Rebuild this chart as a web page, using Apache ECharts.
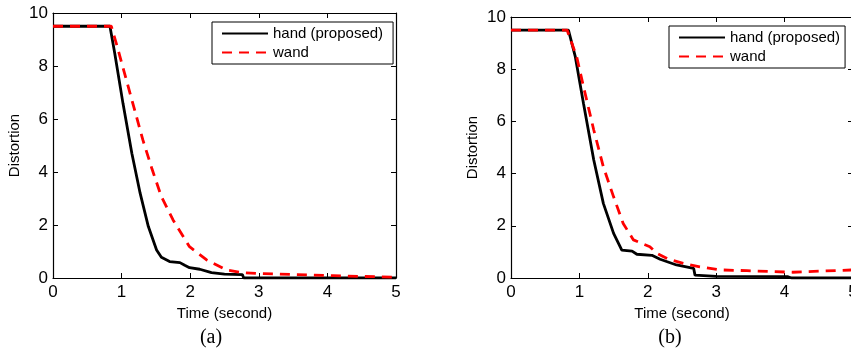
<!DOCTYPE html>
<html>
<head>
<meta charset="utf-8">
<script src="https://cdn.jsdelivr.net/npm/echarts@6/dist/echarts.min.js"></script>
<style>
html,body{margin:0;padding:0;background:#fff;}
#c{width:851px;height:354px;}
</style>
</head>
<body>
<div id="c"></div>
<script>
// ---- data ----
var xTicks = [0, 1, 2, 3, 4, 5];
var yTicks = [0, 2, 4, 6, 8, 10];
var seriesNames = ['hand (proposed)', 'wand'];
var captions = ['(a)', '(b)'];

// (a)
var aHandX = [0, 0.83, 0.90, 1.02, 1.15, 1.27, 1.39, 1.51, 1.58, 1.70, 1.85, 1.92, 1.99, 2.14, 2.31, 2.50, 2.76, 2.78, 5];
var aHandY = [9.5, 9.5, 8.48, 6.59, 4.70, 3.20, 1.94, 1.06, 0.78, 0.62, 0.58, 0.48, 0.39, 0.33, 0.20, 0.15, 0.13, 0, 0];
var aWandX = [0, 0.85, 0.93, 1.07, 1.19, 1.31, 1.44, 1.58, 1.75, 1.99, 2.24, 2.53, 2.77, 2.98, 3.50, 4.08, 4.50, 5];
var aWandY = [9.5, 9.5, 8.79, 7.47, 6.34, 5.21, 4.14, 3.07, 2.19, 1.18, 0.68, 0.30, 0.20, 0.17, 0.13, 0.09, 0.06, 0.03];

// (b)
var bHandX = [0, 0.84, 0.94, 1.06, 1.21, 1.35, 1.50, 1.62, 1.77, 1.84, 2.06, 2.18, 2.42, 2.67, 2.69, 3.00, 4.05, 4.10, 5];
var bHandY = [9.5, 9.5, 8.48, 6.69, 4.52, 2.86, 1.71, 1.07, 1.03, 0.91, 0.87, 0.72, 0.50, 0.37, 0.11, 0.06, 0.05, 0, 0];
var bWandX = [0, 0.82, 0.96, 1.06, 1.21, 1.35, 1.50, 1.64, 1.79, 2.03, 2.13, 2.30, 2.52, 2.76, 3.06, 3.45, 4.12, 4.50, 5];
var bWandY = [9.5, 9.5, 8.48, 7.33, 5.67, 4.26, 3.11, 2.09, 1.46, 1.20, 0.95, 0.72, 0.56, 0.43, 0.31, 0.28, 0.22, 0.26, 0.31];

function pairs(xs, ys) { return xs.map(function (x, i) { return [x, ys[i]]; }); }

var FONT = 'Liberation Sans, Arial, Helvetica, sans-serif';
var chart = echarts.init(document.getElementById('c'), null, {renderer: 'canvas'});

var grids = [
  {left: 53, width: 343, top: 13, bottom: 76, outerBoundsMode: 'none', containLabel: false},
  {left: 511, width: 342, top: 17, bottom: 76, outerBoundsMode: 'none', containLabel: false}
];

function xAx(gi, pos) {
  var main = pos === 'bottom';
  return {
    type: 'value', gridIndex: gi, position: pos, min: xTicks[0], max: xTicks[xTicks.length - 1], interval: 1,
    name: main ? 'Time (second)' : '', nameLocation: 'middle', nameGap: 24,
    nameTextStyle: {color: '#000', fontFamily: FONT, fontSize: 15},
    axisLine: {show: true, onZero: false, lineStyle: {color: '#000', width: 1.2}},
    axisTick: {show: true, inside: true, length: 5, lineStyle: {color: '#000', width: 1}},
    axisLabel: {show: main, color: '#000', fontFamily: FONT, fontSize: 17, margin: 6},
    splitLine: {show: false}
  };
}
function yAx(gi, pos) {
  var main = pos === 'left';
  return {
    type: 'value', gridIndex: gi, position: pos, min: yTicks[0], max: yTicks[yTicks.length - 1], interval: 2,
    name: main ? 'Distortion' : '', nameLocation: 'middle', nameGap: 31,
    nameTextStyle: {color: '#000', fontFamily: FONT, fontSize: 15},
    axisLine: {show: true, onZero: false, lineStyle: {color: '#000', width: 1.2}},
    axisTick: {show: true, inside: true, length: 5, lineStyle: {color: '#000', width: 1}},
    axisLabel: {show: main, color: '#000', fontFamily: FONT, fontSize: 17, margin: 5},
    splitLine: {show: false}
  };
}

function handSeries(name, data, xi, yi) {
  return {name: name, type: 'line', xAxisIndex: xi, yAxisIndex: yi, data: data, symbol: 'none',
    lineStyle: {color: '#000', width: 2.8, type: 'solid'}, itemStyle: {color: '#000'}, animation: false, z: 2};
}
function wandSeries(name, data, xi, yi) {
  return {name: name, type: 'line', xAxisIndex: xi, yAxisIndex: yi, data: data, symbol: 'none',
    lineStyle: {color: '#ff0000', width: 2.8, type: [10, 7]}, itemStyle: {color: '#ff0000'}, animation: false, z: 3};
}

function legend(left, top, padRight) {
  return {
    left: left, top: top, orient: 'vertical', data: seriesNames,
    itemWidth: 46, itemHeight: 14, itemGap: 4,
    padding: [4, padRight, 4, 9], borderColor: '#000', borderWidth: 1, backgroundColor: '#fff',
    selectedMode: false,
    itemStyle: {color: 'rgba(0,0,0,0)', borderWidth: 0, opacity: 0},
    textStyle: {color: '#000', fontFamily: FONT, fontSize: 15, lineHeight: 15}
  };
}

chart.setOption({
  animation: false,
  grid: grids,
  xAxis: [xAx(0, 'bottom'), xAx(0, 'top'), xAx(1, 'bottom'), xAx(1, 'top')],
  yAxis: [yAx(0, 'left'), yAx(0, 'right'), yAx(1, 'left'), yAx(1, 'right')],
  legend: [legend(212, 22, 10), legend(669, 26, 5)],
  series: [
    handSeries(seriesNames[0], pairs(aHandX, aHandY), 0, 0),
    wandSeries(seriesNames[1], pairs(aWandX, aWandY), 0, 0),
    handSeries(seriesNames[0], pairs(bHandX, bHandY), 2, 2),
    wandSeries(seriesNames[1], pairs(bWandX, bWandY), 2, 2)
  ],
  graphic: [
    {type: 'text', style: {text: captions[0], font: '20px "Liberation Serif", "Times New Roman", serif', fill: '#000', textAlign: 'center', textVerticalAlign: 'middle'}, x: 211, y: 338},
    {type: 'text', style: {text: captions[1], font: '20px "Liberation Serif", "Times New Roman", serif', fill: '#000', textAlign: 'center', textVerticalAlign: 'middle'}, x: 670, y: 338}
  ]
});
</script>
</body>
</html>
